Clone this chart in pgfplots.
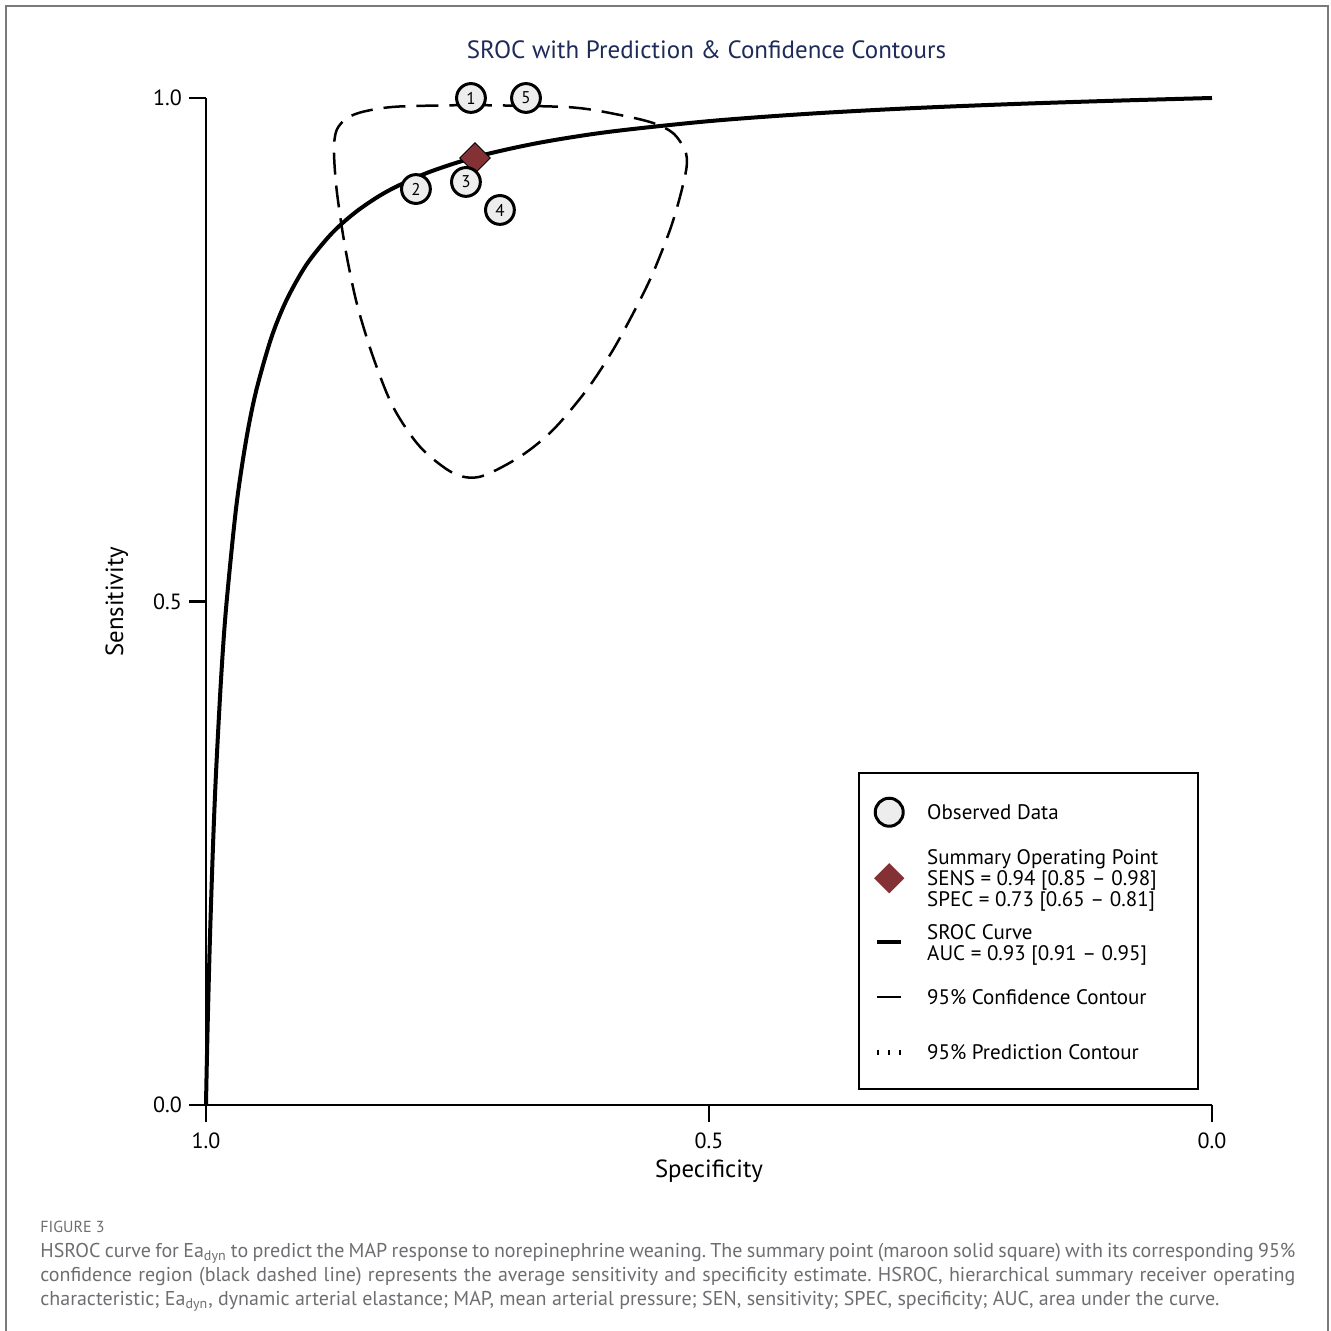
\documentclass[border=0pt]{standalone}
\usepackage{fontspec}
\setmainfont{PT Sans}
\usepackage{pgfplots}
\pgfplotsset{compat=1.18}
\usepackage{pgfplotstable}
\definecolor{titlecol}{HTML}{1E2B58}
\definecolor{maroonc}{HTML}{843136}
\definecolor{obsfill}{HTML}{EDEDED}
\definecolor{capgray}{HTML}{6D6E71}
\definecolor{framegray}{HTML}{7A7A7A}

\pgfplotstableread{
spec sens
1.0000 0.0000
0.9995 0.0260
0.9990 0.0497
0.9980 0.0931
0.9960 0.1676
0.9930 0.2581
0.9900 0.3303
0.9850 0.4234
0.9800 0.4938
0.9700 0.5934
0.9600 0.6608
0.9500 0.7097
0.9350 0.7621
0.9200 0.7992
0.9000 0.8347
0.8750 0.8655
0.8500 0.8876
0.8200 0.9072
0.7800 0.9257
0.7300 0.9419
0.6700 0.9553
0.6000 0.9663
0.5000 0.9770
0.4000 0.9844
0.3000 0.9898
0.2000 0.9939
0.1000 0.9972
0.0000 1.0000
}\srocdata

\pgfplotstableread{
spec sens
0.7376 0.9930
0.6382 0.9908
0.5885 0.9831
0.5557 0.9752
0.5358 0.9652
0.5239 0.9483
0.5222 0.9318
0.5288 0.9020
0.5388 0.8689
0.5557 0.8262
0.5719 0.7928
0.5954 0.7498
0.6216 0.7100
0.6551 0.6703
0.6879 0.6438
0.7276 0.6239
0.7545 0.6276
0.7873 0.6537
0.8141 0.6934
0.8340 0.7431
0.8502 0.7964
0.8618 0.8523
0.8701 0.9086
0.8728 0.9483
0.8701 0.9682
0.8601 0.9798
0.8436 0.9864
0.8104 0.9914
0.7376 0.9930
}\contourdata

\pgfplotstableread{
spec sens lab
0.7366 1.0000 1
0.6819 1.0000 5
0.7913 0.9096 2
0.7416 0.9166 3
0.7078 0.8888 4
}\obsdata

\DeclareRobustCommand{\lent}[3]{\parbox[c]{128.5pt}{\rule{0pt}{#1}#3\rule[-#2]{0pt}{#2}}}

\begin{document}
\frenchspacing
\begin{tikzpicture}
\useasboundingbox (-103pt,-113pt) rectangle (562pt,552.5pt);
\draw[framegray, line width=0.8pt] (-100pt,-120pt) -- (-100pt,549.5pt) -- (561pt,549.5pt) -- (561pt,-120pt);
\node[font=\fontsize{12.5}{15}\selectfont, text=titlecol] at (250.25pt,527.5pt) {SROC with Prediction \& Confidence Contours};
\begin{axis}[
  at={(0pt,0pt)}, anchor=south west,
  scale only axis, width=503pt, height=503.5pt,
  xmin=0, xmax=1, ymin=0, ymax=1, x dir=reverse,
  axis x line*=bottom, axis y line*=left,
  axis line style={line width=1.25pt, black},
  tick align=outside, major tick length=8.5pt,
  tick style={line width=1.25pt, black},
  xtick={0,0.5,1}, xticklabels={0.0,0.5,1.0},
  ytick={0,0.5,1}, yticklabels={0.0,0.5,1.0},
  ticklabel style={font=\fontsize{11}{13}\selectfont},
  xticklabel style={yshift=-2pt},
  xlabel={Specificity}, ylabel={Sensitivity},
  xlabel style={at={(axis description cs:0.5,-0.0655)}, anchor=center, font=\fontsize{12.4}{14}\selectfont},
  ylabel style={at={(axis description cs:-0.0885,0.5)}, anchor=center, font=\fontsize{12.4}{14}\selectfont},
  clip=false,
  legend style={at={(axis description cs:0.6481,0.3307)}, anchor=north west, draw=black, line width=1.25pt, fill=white, inner xsep=7pt, inner ysep=6.5pt, column sep=11pt, row sep=0pt, font=\fontsize{10.5}{10.5}\selectfont, cells={anchor=west, inner sep=0pt}, nodes={anchor=west, inner sep=0pt, text depth={}, text height={}}},
]
\addplot[only marks, mark=square*, mark size=5.4pt, mark options={rotate=45, fill=maroonc, draw=none}, forget plot] coordinates {(0.7326,0.9404)};
\addplot[only marks, mark=*, mark size=7.2pt, mark options={fill=obsfill, draw=black, line width=1.5pt}, nodes near coords, point meta=explicit symbolic, every node near coord/.append style={anchor=center, font=\fontsize{8.5}{9}\selectfont, inner sep=0pt, text=black}, forget plot] table[x=spec, y=sens, meta=lab] {\obsdata};
\addplot[line width=2pt, smooth, forget plot] table[x=spec, y=sens] {\srocdata};
\addplot[line width=1.25pt, dash pattern=on 11pt off 5.5pt, smooth, tension=0.5, forget plot] table[x=spec, y=sens] {\contourdata};

\addlegendimage{legend image code/.code={\path[draw=none,fill=none] (-2pt,0pt) -- (14pt,0pt); \draw[fill=obsfill, draw=black, line width=1.5pt] (6pt,0pt) circle (7pt);}}
\addlegendentry{\lent{16.7pt}{9.3pt}{Observed Data}}
\addlegendimage{legend image code/.code={\path[draw=none,fill=none] (-2pt,0pt) -- (14pt,0pt); \fill[maroonc, draw=none] (6pt,7.6pt) -- (13.6pt,0pt) -- (6pt,-7.6pt) -- (-1.6pt,0pt) -- cycle;}}
\addlegendentry{\lent{13.2pt}{5.8pt}{Summary Operating Point\\SENS = 0.94 [0.85 -- 0.98]\\SPEC = 0.73 [0.65 -- 0.81]}}
\addlegendimage{legend image code/.code={\path[draw=none,fill=none] (-2pt,0pt) -- (14pt,0pt); \draw[line width=2pt] (0pt,0pt) -- (12pt,0pt);}}
\addlegendentry{\lent{10.45pt}{3.05pt}{SROC Curve\\AUC = 0.93 [0.91 -- 0.95]}}
\addlegendimage{legend image code/.code={\path[draw=none,fill=none] (-2pt,0pt) -- (14pt,0pt); \draw[line width=1.2pt] (0pt,0pt) -- (12pt,0pt);}}
\addlegendentry{\lent{19.2pt}{11.8pt}{95\% Confidence Contour}}
\addlegendimage{legend image code/.code={\path[draw=none,fill=none] (-2pt,0pt) -- (14pt,0pt); \draw[line width=0.8pt] (0.5pt,-1.2pt) -- (0.5pt,1.2pt) (6pt,-1.2pt) -- (6pt,1.2pt) (11.5pt,-1.2pt) -- (11.5pt,1.2pt);}}
\addlegendentry{\lent{15.7pt}{8.3pt}{95\% Prediction Contour}}
\end{axis}
\node[anchor=west, inner sep=0pt, text=capgray, font=\fontsize{8}{9}\selectfont] at (-83pt,-61pt) {FIGURE 3};
\node[anchor=north west, inner sep=0pt, text width=627.5pt, align=justify, text=capgray, font=\fontsize{10}{12}\selectfont] at (-83pt,-69pt) {HSROC curve for Ea\textsubscript{dyn} to predict the MAP response to norepinephrine weaning. The summary point (maroon solid square) with its corresponding 95\%\linebreak confidence region (black dashed line) represents the average sensitivity and specificity estimate. HSROC, hierarchical summary receiver operating\linebreak characteristic; Ea\textsubscript{dyn}, dynamic arterial elastance; MAP, mean arterial pressure; SEN, sensitivity; SPEC, specificity; AUC, area under the curve.};
\end{tikzpicture}
\end{document}
